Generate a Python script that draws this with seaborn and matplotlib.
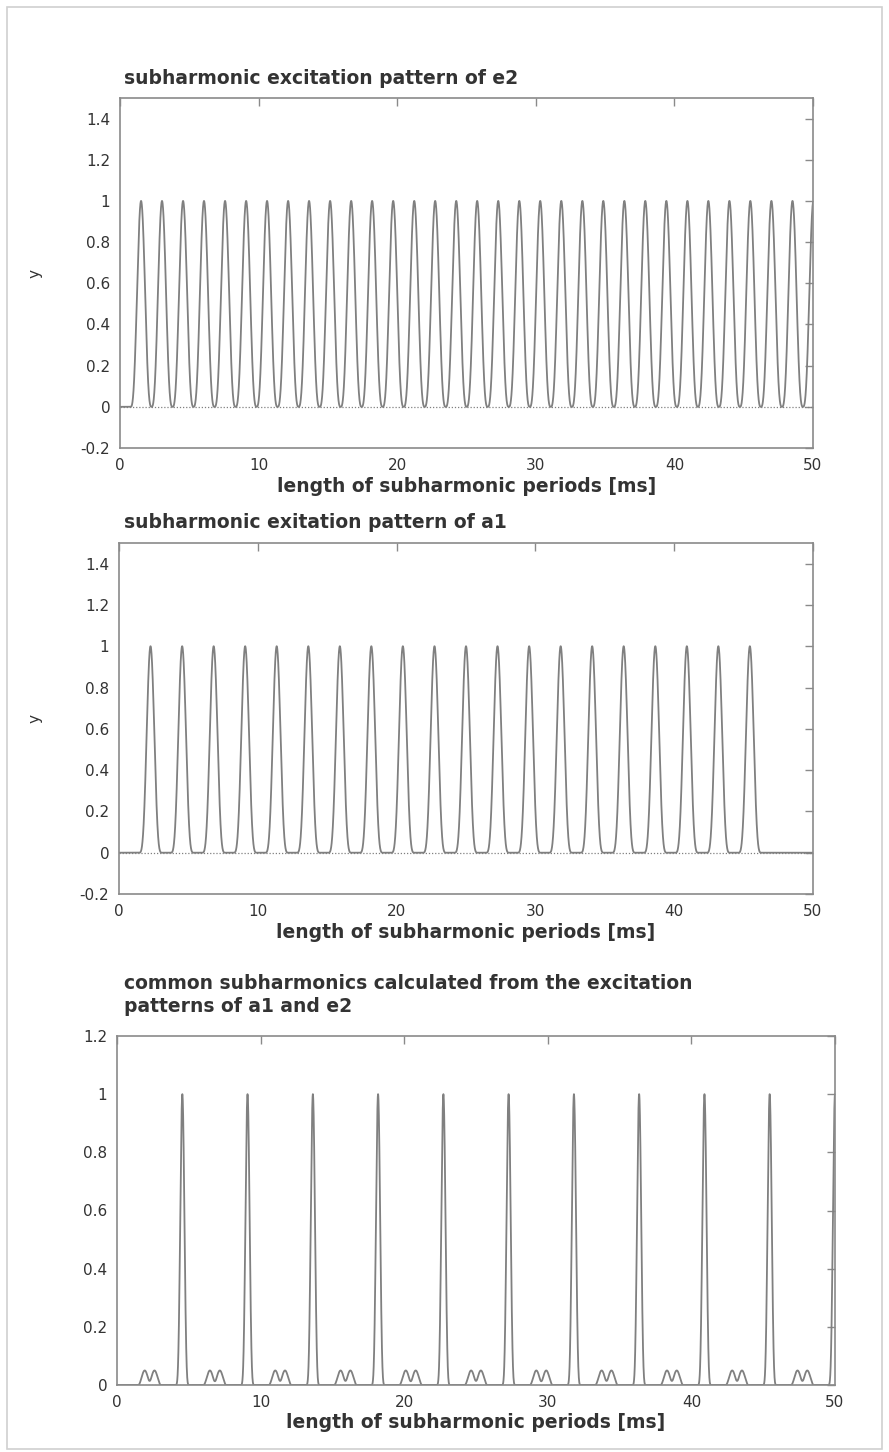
import matplotlib
matplotlib.use("Agg")
import matplotlib.pyplot as plt
import seaborn as sns
import numpy as np
import pandas as pd
from matplotlib.patches import Rectangle

# --- Data (peak centres in ms, peak heights, base half-widths)
e2_peaks = [1.52, 3.03, 4.55, 6.06, 7.58, 9.10, 10.61, 12.13, 13.64, 15.16, 16.68,
            18.19, 19.71, 21.23, 22.74, 24.26, 25.77, 27.29, 28.81, 30.32, 31.84,
            33.36, 34.87, 36.39, 37.90, 39.42, 40.94, 42.45, 43.97, 45.48, 47.00,
            48.52, 50.03]
e2_height = 1.0
e2_halfwidth = 0.76

a1_peaks = [2.27, 4.55, 6.82, 9.09, 11.36, 13.64, 15.91, 18.18, 20.45, 22.73,
            25.00, 27.27, 29.55, 31.82, 34.09, 36.36, 38.64, 40.91, 43.18, 45.45]
a1_height = 1.0
a1_halfwidth = 0.85

common_peaks = [4.55, 9.09, 13.64, 18.18, 22.73, 27.27, 31.82, 36.36, 40.91, 45.45, 50.00]
common_height = 1.0
common_halfwidth = 0.5
side_peaks = [1.93, 2.61, 6.47, 7.16, 11.02, 11.70, 15.57, 16.25, 20.11, 20.80,
              24.66, 25.34, 29.20, 29.89, 33.75, 34.43, 38.30, 38.98, 42.84, 43.52,
              47.39, 48.07]
side_height = 0.05
side_halfwidth = 0.45

titles = ["subharmonic excitation pattern of e2",
          "subharmonic exitation pattern of a1",
          "common subharmonics calculated from the excitation\npatterns of a1 and e2"]
xlabel = "length of subharmonic periods [ms]"
x_ticks = [0, 10, 20, 30, 40, 50]
y_ticks_top = [-0.2, 0, 0.2, 0.4, 0.6, 0.8, 1, 1.2, 1.4]
y_ticks_bottom = [0, 0.2, 0.4, 0.6, 0.8, 1, 1.2]

# --- General Plot Settings
sns.set_style("white")
plt.rcParams['font.family'] = ['DejaVu Sans']
W, H = 889, 1452
LINE = "#808080"
TEXT = "#333333"
SPINE = "#8a8a8a"

x_grid = np.linspace(0, 50, 10001)


def pulse_train(centres, height, halfwidth, power):
    """sum of narrow raised-cosine pulses at the given centres"""
    y = np.zeros_like(x_grid)
    for c in centres:
        d = np.abs(x_grid - c)
        m = d < halfwidth
        y[m] += height * np.cos(np.pi * d[m] / (2 * halfwidth)) ** power
    return y


def fmt(v):
    return "%g" % v


def ax_box(left, top, right, bottom):
    return [left / W, 1 - bottom / H, (right - left) / W, (bottom - top) / H]


fig = plt.figure(figsize=(W / 100, H / 100), dpi=100)
fig.patches.append(Rectangle((7 / W, 3 / H), (882 - 7) / W, (1445 - 3) / H,
                             transform=fig.transFigure, fill=False,
                             edgecolor="#d0d0d0", linewidth=1.2))

panels = [
    dict(box=(120, 98, 813, 448), y=pulse_train(e2_peaks, e2_height, e2_halfwidth, 3),
         ylim=(-0.2, 1.5), yticks=y_ticks_top, ylab=True, title_y=79, xlab_y=486),
    dict(box=(119, 543, 813, 894), y=pulse_train(a1_peaks, a1_height, a1_halfwidth, 4),
         ylim=(-0.2, 1.5), yticks=y_ticks_top, ylab=True, title_y=523, xlab_y=933),
    dict(box=(117, 1036, 835, 1385),
         y=pulse_train(common_peaks, common_height, common_halfwidth, 5)
         + pulse_train(side_peaks, side_height, side_halfwidth, 2),
         ylim=(0, 1.2), yticks=y_ticks_bottom, ylab=False, title_y=995, xlab_y=1422),
]

for p, title in zip(panels, titles):
    left, top, right, bottom = p["box"]
    ax = fig.add_axes(ax_box(left, top, right, bottom))
    df = pd.DataFrame({"x": x_grid, "y": p["y"]})
    ax.axhline(0, color=LINE, linewidth=0.9, linestyle=(0, (1, 1.5)))
    sns.lineplot(data=df, x="x", y="y", ax=ax, color=LINE, linewidth=1.3,
                 estimator=None, sort=False)
    ax.set_xlim(0, 50)
    ax.set_ylim(*p["ylim"])
    ax.set_xticks(x_ticks)
    ax.set_xticklabels([fmt(v) for v in x_ticks])
    ax.set_yticks(p["yticks"])
    ax.set_yticklabels([fmt(v) for v in p["yticks"]])
    ax.tick_params(direction="in", length=6, width=1, color=SPINE,
                   top=True, right=True, labelsize=11, labelcolor=TEXT, pad=7)
    for s in ax.spines.values():
        s.set_color(SPINE)
        s.set_linewidth(1.2)
    ax.set_xlabel("")
    ax.set_ylabel("")
    # titles and labels
    fig.text(124 / W, 1 - p["title_y"] / H, title, ha="left", va="center",
             fontsize=13.5, fontweight="bold", color=TEXT, linespacing=1.3)
    fig.text((left + right) / 2 / W, 1 - p["xlab_y"] / H, xlabel, ha="center",
             va="center", fontsize=13.5, fontweight="bold", color=TEXT)
    if p["ylab"]:
        fig.text(35 / W, 1 - (top + bottom) / 2 / H, "y", ha="center", va="center",
                 rotation=90, fontsize=11, color=TEXT)

plt.savefig("out.png", dpi=100)
plt.close()
